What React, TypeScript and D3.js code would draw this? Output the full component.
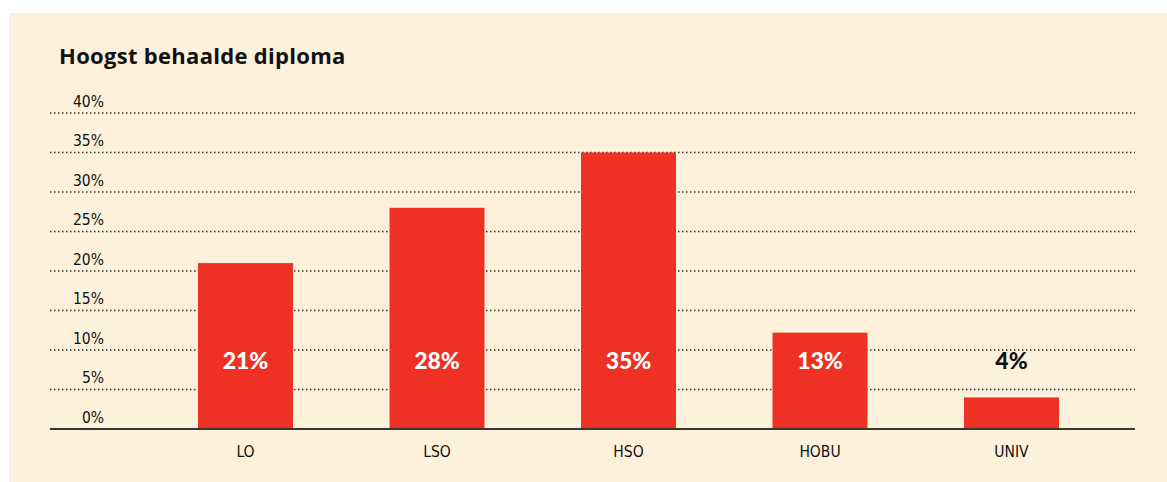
import React, { useRef, useEffect } from "react";
import * as d3 from "d3";

const categories = ["LO", "LSO", "HSO", "HOBU", "UNIV"];
const values = [21, 28, 35, 12.2, 4];
const valueLabels = ["21%", "28%", "35%", "13%", "4%"];
const yTicks = [0, 5, 10, 15, 20, 25, 30, 35, 40];

const App = () => {
  const chartRef = useRef<HTMLDivElement>(null);

  useEffect(() => {
    const width = 1167;
    const height = 482;

    const el = chartRef.current;
    if (!el) return;
    d3.select(el).selectAll("*").remove();

    const svg = d3
      .select(el)
      .append("svg")
      .attr("width", width)
      .attr("height", height)
      .style("display", "block");

    // cream panel
    svg
      .append("rect")
      .attr("x", 9)
      .attr("y", 13)
      .attr("width", width - 9)
      .attr("height", height - 13)
      .attr("fill", "#fef1dc");

    svg
      .append("text")
      .attr("x", 59)
      .attr("y", 64)
      .attr("font-family", "'Open Sans', Lato, sans-serif")
      .attr("font-weight", 700)
      .attr("font-size", 22)
      .attr("letter-spacing", 0.3)
      .attr("fill", "#111")
      .text("Hoogst behaalde diploma");

    const yScale = d3.scaleLinear().domain([0, 40]).range([429, 113]);

    // step 191.5, bar width 95
    const xScale = d3
      .scaleBand()
      .domain(categories)
      .range([149.75, 149.75 + 5 * 191.5])
      .paddingInner(0.504)
      .paddingOuter(0.252);

    const axisFont = "'Liberation Sans Narrow', 'DejaVu Sans Condensed', sans-serif";

    // gridlines
    svg
      .append("g")
      .selectAll("line")
      .data(yTicks.filter((d) => d > 0))
      .enter()
      .append("line")
      .attr("x1", 50)
      .attr("x2", 1135)
      .attr("y1", (d) => yScale(d))
      .attr("y2", (d) => yScale(d))
      .attr("stroke", "#333")
      .attr("stroke-width", 1.5)
      .attr("stroke-dasharray", "1.5,2.5");

    // y tick labels
    svg
      .append("g")
      .selectAll("text")
      .data(yTicks)
      .enter()
      .append("text")
      .attr("x", 104)
      .attr("y", (d) => yScale(d) - 6.5)
      .attr("text-anchor", "end")
      .attr("font-family", axisFont)
      .attr("font-size", 15.5)
      .attr("fill", "#111")
      .text((d) => d + "%");

    // bars
    svg
      .append("g")
      .selectAll("rect")
      .data(values)
      .enter()
      .append("rect")
      .attr("x", (d, i) => xScale(categories[i]) as number)
      .attr("width", xScale.bandwidth())
      .attr("y", (d) => yScale(d))
      .attr("height", (d) => yScale(0) - yScale(d))
      .attr("fill", "#ee3124");

    // baseline
    svg
      .append("line")
      .attr("x1", 50)
      .attr("x2", 1135)
      .attr("y1", yScale(0))
      .attr("y2", yScale(0))
      .attr("stroke", "#3a3630")
      .attr("stroke-width", 2);

    // value labels
    svg
      .append("g")
      .selectAll("text")
      .data(values)
      .enter()
      .append("text")
      .attr("x", (d, i) => (xScale(categories[i]) as number) + xScale.bandwidth() / 2)
      .attr("y", 369)
      .attr("text-anchor", "middle")
      .attr("font-family", "Lato, 'Open Sans', sans-serif")
      .attr("font-weight", 900)
      .attr("font-size", 23)
      .attr("fill", (d) => (yScale(d) < 345 ? "#fff" : "#111"))
      .text((d, i) => valueLabels[i]);

    // x labels
    svg
      .append("g")
      .selectAll("text")
      .data(categories)
      .enter()
      .append("text")
      .attr("x", (d) => (xScale(d) as number) + xScale.bandwidth() / 2)
      .attr("y", 457)
      .attr("text-anchor", "middle")
      .attr("font-family", axisFont)
      .attr("font-size", 15.5)
      .attr("fill", "#111")
      .text((d) => d);
  }, []);

  return (
    <div
      ref={chartRef}
      style={{ position: "absolute", left: 0, top: 0, width: 1167, height: 482 }}
    ></div>
  );
};

export default App;
